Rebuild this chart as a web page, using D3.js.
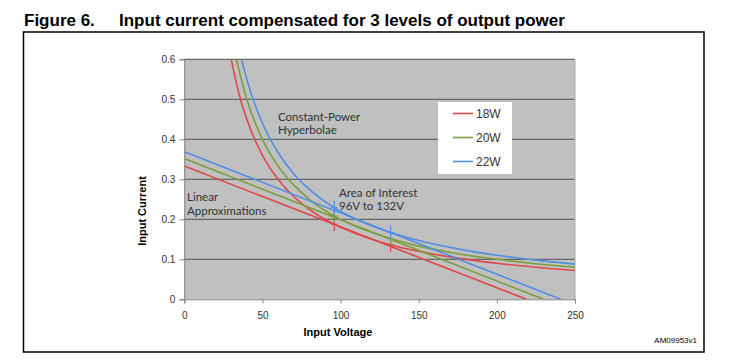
<!DOCTYPE html>
<html lang="en">
<head>
    <meta charset="utf-8">
    <title>Figure 6</title>
    <script src='https://cdn.jsdelivr.net/npm/d3@7'></script>
</head>
<style>
    body { margin: 0; background: #fff; }
    svg { position: absolute; left: 0; top: 0; }
    .tick text { font: 10px 'Liberation Sans', Arial, sans-serif; fill: #333; }
    .note { font: 11.5px Lato, 'Open Sans', sans-serif; fill: #333; }
</style>
<body>
<script type="text/javascript">

    // series
    var seriesNames = ['18W', '20W', '22W'];
    var colorList = ['#e04848', '#7d9f3e', '#4f8fe3'];

    // constant-power curves (volts, amps)
    var hypVolts = [
        [30, 35, 40, 50, 60, 70, 80, 96, 110, 132, 150, 175, 200, 225, 250],
        [33.3, 40, 50, 60, 70, 80, 96, 110, 132, 150, 175, 200, 225, 250],
        [36.7, 40, 50, 60, 70, 80, 96, 110, 132, 150, 175, 200, 225, 250]
    ];
    var hypAmps = [
        [0.6, 0.514, 0.45, 0.36, 0.3, 0.257, 0.225, 0.1875, 0.164, 0.136, 0.12, 0.103, 0.09, 0.08, 0.072],
        [0.6, 0.5, 0.4, 0.333, 0.286, 0.25, 0.208, 0.182, 0.152, 0.133, 0.114, 0.1, 0.089, 0.08],
        [0.6, 0.55, 0.44, 0.367, 0.314, 0.275, 0.229, 0.2, 0.167, 0.147, 0.126, 0.11, 0.098, 0.088]
    ];

    // linear approximations: current at 0 V and voltage where current reaches 0
    var linStart = [0.333, 0.352, 0.369];
    var linZero = [219, 230, 241];

    // area of interest markers
    var markVolts = [96, 132];
    var markAmps = [[0.1875, 0.136], [0.208, 0.152], [0.229, 0.167]];

    var xTicks = [0, 50, 100, 150, 200, 250];
    var yTicks = [0, 0.1, 0.2, 0.3, 0.4, 0.5, 0.6];

    var width = 730, height = 364;
    var pLeft = 184.3, pRight = 575, pTop = 59.3, pBottom = 299.3;

    var svg = d3.select('body').append('svg')
        .attr('width', width)
        .attr('height', height);

    // title
    svg.append('text')
        .attr('x', 24).attr('y', 26)
        .style('font', 'bold 17px "Liberation Sans", Arial, sans-serif')
        .text('Figure 6.');
    svg.append('text')
        .attr('x', 119).attr('y', 26)
        .style('font', 'bold 17px "Liberation Sans", Arial, sans-serif')
        .text('Input current compensated for 3 levels of output power');

    // frame
    svg.append('rect')
        .attr('x', 23.5).attr('y', 32)
        .attr('width', 680.5).attr('height', 320)
        .style('fill', 'none')
        .style('stroke', '#000')
        .style('stroke-width', 1.5);

    var xScale = d3.scaleLinear().domain([0, 250]).range([pLeft, pRight]);
    var yScale = d3.scaleLinear().domain([0, 0.6]).range([pBottom, pTop]);

    svg.append('rect')
        .attr('x', pLeft).attr('y', pTop)
        .attr('width', pRight - pLeft).attr('height', pBottom - pTop)
        .style('fill', '#c0c0c0');

    // gridlines
    svg.append('g').selectAll('line')
        .data(yTicks.slice(1))
        .enter().append('line')
        .attr('x1', pLeft).attr('x2', pRight)
        .attr('y1', function(d) { return yScale(d); })
        .attr('y2', function(d) { return yScale(d); })
        .style('stroke', '#505050')
        .style('stroke-width', 1);

    svg.append('line')
        .attr('x1', pRight).attr('x2', pRight)
        .attr('y1', pTop).attr('y2', pBottom)
        .style('stroke', '#a8a8a8');

    var xAxis = d3.axisBottom(xScale).tickValues(xTicks).tickSize(4).tickPadding(9)
        .tickFormat(d3.format('d'));
    var yAxis = d3.axisLeft(yScale).tickValues(yTicks).tickSize(5).tickPadding(4)
        .tickFormat(function(d) { return d === 0 ? '0' : d3.format('.1f')(d); });

    var gx = svg.append('g').attr('transform', 'translate(0,' + pBottom + ')').call(xAxis);
    var gy = svg.append('g').attr('transform', 'translate(' + pLeft + ',0)').call(yAxis);
    [gx, gy].forEach(function(g) {
        g.select('.domain').style('stroke', '#808080');
        g.selectAll('.tick line').style('stroke', '#808080');
    });

    svg.append('text')
        .attr('transform', 'translate(146,211) rotate(-90)')
        .attr('text-anchor', 'middle')
        .style('font', 'bold 11px "Liberation Sans", Arial, sans-serif')
        .text('Input Current');
    svg.append('text')
        .attr('x', 338).attr('y', 336)
        .attr('text-anchor', 'middle')
        .style('font', 'bold 11px "Liberation Sans", Arial, sans-serif')
        .text('Input Voltage');

    svg.append('clipPath').attr('id', 'plotClip')
        .append('rect')
        .attr('x', pLeft).attr('y', pTop)
        .attr('width', pRight - pLeft).attr('height', pBottom - pTop);

    var plot = svg.append('g').attr('clip-path', 'url(#plotClip)');

    var curve = d3.line()
        .x(function(d) { return xScale(d[0]); })
        .y(function(d) { return yScale(d[1]); })
        .curve(d3.curveMonotoneX);

    seriesNames.forEach(function(name, i) {
        var pts = hypVolts[i].map(function(v, j) { return [v, hypAmps[i][j]]; });
        plot.append('path')
            .datum(pts)
            .attr('d', curve)
            .style('fill', 'none')
            .style('stroke', colorList[i])
            .style('stroke-width', 1.6);

        plot.append('line')
            .attr('x1', xScale(0)).attr('y1', yScale(linStart[i]))
            .attr('x2', xScale(linZero[i])).attr('y2', yScale(0))
            .style('stroke', colorList[i])
            .style('stroke-width', 1.6);

        markVolts.forEach(function(v, j) {
            var cx = xScale(v), cy = yScale(markAmps[i][j]);
            plot.append('line')
                .attr('x1', cx).attr('x2', cx)
                .attr('y1', cy - 7).attr('y2', cy + 7)
                .style('stroke', colorList[i]).style('stroke-width', 1.2);
            plot.append('line')
                .attr('x1', cx - 3).attr('x2', cx + 3)
                .attr('y1', cy).attr('y2', cy)
                .style('stroke', colorList[i]).style('stroke-width', 1.2);
        });
    });

    // annotations
    var notes = [
        {x: 278, y: 121, t: 'Constant-Power'},
        {x: 278, y: 134, t: 'Hyperbolae'},
        {x: 187, y: 201, t: 'Linear'},
        {x: 187, y: 215, t: 'Approximations'},
        {x: 339, y: 197, t: 'Area of Interest'},
        {x: 339, y: 210, t: '96V to 132V'}
    ];
    svg.selectAll('text.note')
        .data(notes)
        .enter().append('text')
        .attr('class', 'note')
        .attr('x', function(d) { return d.x; })
        .attr('y', function(d) { return d.y; })
        .text(function(d) { return d.t; });

    // legend
    var legend = svg.append('g');
    legend.append('rect')
        .attr('x', 438).attr('y', 102)
        .attr('width', 74).attr('height', 72)
        .style('fill', '#fff');
    var items = legend.selectAll('g')
        .data(seriesNames)
        .enter().append('g')
        .attr('transform', function(d, i) { return 'translate(453,' + (113.5 + 24 * i) + ')'; });
    items.append('line')
        .attr('x1', 0).attr('x2', 20)
        .style('stroke', function(d, i) { return colorList[i]; })
        .style('stroke-width', 1.6);
    items.append('text')
        .attr('x', 23).attr('y', 4.5)
        .style('font', '12px "Liberation Sans", Arial, sans-serif')
        .style('fill', '#333')
        .text(function(d) { return d; });

    svg.append('text')
        .attr('x', 697).attr('y', 343)
        .attr('text-anchor', 'end')
        .style('font', '8px "Liberation Sans", Arial, sans-serif')
        .text('AM09953v1');

</script>
</body>
</html>
